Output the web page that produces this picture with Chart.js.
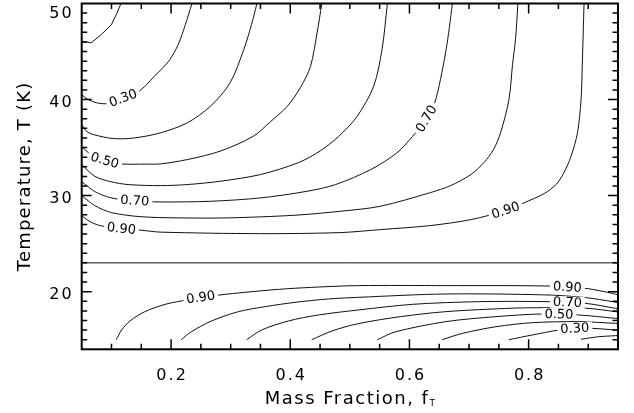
<!DOCTYPE html>
<html>
<head>
<meta charset="utf-8">
<title>Mass fraction vs temperature contours</title>
<script src="https://cdn.jsdelivr.net/npm/chart.js@4.4.0/dist/chart.umd.min.js"></script>
<style>
  html, body { margin: 0; padding: 0; background: #fff; }
  canvas { display: block; }
</style>
</head>
<body>
<canvas id="contours" width="634" height="413"></canvas>
<script>
// contour levels, shared by both regions
const levels = [0.20, 0.30, 0.40, 0.50, 0.60, 0.70, 0.80, 0.90];

// upper region (T above the boundary), each contour as [f_T, T] pairs
const up20 = [[0.050, 46.07], [0.066, 45.91], [0.083, 46.77], [0.100, 47.81], [0.108, 48.85], [0.116, 50.0]];
const up30 = [[0.050, 40.52], [0.059, 40.07], [0.075, 39.66], [0.093, 39.58], [0.114, 40.0], [0.142, 40.68],
  [0.159, 41.56], [0.173, 42.50], [0.185, 43.23], [0.198, 44.17], [0.212, 45.73], [0.224, 47.81], [0.235, 50.0]];
const up40 = [[0.050, 37.40], [0.058, 36.70], [0.070, 36.35], [0.103, 35.94], [0.137, 35.99], [0.182, 36.53],
  [0.227, 37.57], [0.266, 39.30], [0.299, 41.74], [0.322, 45.21], [0.335, 47.81], [0.344, 50.0]];
const up50 = [[0.050, 35.10], [0.061, 34.48], [0.081, 33.75], [0.117, 33.30], [0.156, 33.28], [0.182, 33.30],
  [0.227, 33.75], [0.282, 34.62], [0.338, 36.18], [0.367, 37.71], [0.395, 39.30], [0.417, 41.25],
  [0.434, 43.47], [0.445, 46.95], [0.453, 50.0]];
const up60 = [[0.050, 33.23], [0.072, 32.01], [0.098, 31.46], [0.128, 31.15], [0.182, 31.04], [0.227, 31.15],
  [0.282, 31.49], [0.350, 32.19], [0.414, 33.44], [0.451, 34.69], [0.481, 36.15], [0.512, 38.23],
  [0.540, 41.39], [0.554, 45.21], [0.563, 50.0]];
const up70 = [[0.050, 31.46], [0.072, 30.42], [0.098, 29.79], [0.131, 29.48], [0.182, 29.34], [0.266, 29.41],
  [0.350, 29.76], [0.428, 30.45], [0.476, 31.15], [0.535, 32.71], [0.579, 34.45], [0.605, 36.15],
  [0.629, 38.02], [0.642, 39.58], [0.652, 42.08], [0.661, 45.00], [0.667, 47.50], [0.672, 50.0]];
const up80 = [[0.050, 30.00], [0.072, 28.96], [0.100, 28.23], [0.148, 27.81], [0.212, 27.68], [0.294, 27.68],
  [0.406, 27.95], [0.484, 28.37], [0.551, 28.89], [0.635, 30.31], [0.669, 31.04], [0.703, 32.19],
  [0.725, 33.44], [0.741, 34.79], [0.753, 36.56], [0.767, 40.00], [0.773, 43.65], [0.778, 46.25], [0.782, 50.0]];
const up90 = [[0.050, 27.92], [0.064, 27.29], [0.081, 26.88], [0.114, 26.56], [0.148, 26.41], [0.182, 26.20],
  [0.350, 26.04], [0.484, 26.15], [0.551, 26.46], [0.635, 26.88], [0.703, 27.50], [0.761, 28.44],
  [0.792, 29.24], [0.826, 30.21], [0.846, 31.15], [0.859, 32.36], [0.871, 34.06], [0.882, 36.53],
  [0.888, 40.00], [0.890, 43.47], [0.893, 50.0]];

// lower region (T below the boundary)
const low20 = [[0.888, 15.05], [0.918, 15.31], [0.946, 15.42], [0.950, 15.43]];
const low30 = [[0.767, 15.0], [0.806, 15.49], [0.851, 16.01], [0.879, 16.17], [0.907, 16.18], [0.946, 16.01], [0.950, 16.00]];
const low40 = [[0.655, 15.0], [0.689, 15.66], [0.745, 16.35], [0.806, 16.77], [0.885, 16.88], [0.946, 16.70], [0.950, 16.68]];
const low50 = [[0.546, 15.0], [0.577, 15.83], [0.661, 16.88], [0.745, 17.40], [0.823, 17.68], [0.885, 17.57], [0.946, 17.22], [0.950, 17.20]];
const low60 = [[0.436, 15.0], [0.470, 15.91], [0.514, 16.67], [0.585, 17.40], [0.661, 17.92], [0.773, 18.28],
  [0.829, 18.33], [0.896, 18.28], [0.946, 17.92], [0.950, 17.88]];
const low70 = [[0.327, 15.0], [0.352, 16.01], [0.397, 16.95], [0.447, 17.57], [0.514, 18.09], [0.605, 18.68],
  [0.717, 18.96], [0.829, 18.96], [0.896, 18.78], [0.946, 18.26], [0.950, 18.20]];
const low80 = [[0.217, 15.0], [0.234, 15.83], [0.268, 16.95], [0.313, 17.92], [0.358, 18.44], [0.408, 18.89],
  [0.464, 19.24], [0.514, 19.41], [0.661, 19.76], [0.829, 19.66], [0.896, 19.38], [0.941, 18.96], [0.950, 18.85]];
const low90 = [[0.108, 15.0], [0.117, 16.01], [0.131, 16.95], [0.156, 17.92], [0.190, 18.68], [0.217, 19.03],
  [0.249, 19.38], [0.282, 19.66], [0.324, 19.93], [0.380, 20.24], [0.436, 20.45], [0.514, 20.63],
  [0.661, 20.63], [0.829, 20.59], [0.896, 20.34], [0.941, 19.82], [0.950, 19.66]];

// horizontal boundary between the two regions
const boundary = [[0.05, 23.0], [0.95, 23.0]];

const upperCurves = [up20, up30, up40, up50, up60, up70, up80, up90];
const lowerCurves = [low20, low30, low40, low50, low60, low70, low80, low90];

// inline contour labels: which curve, and the f_T where the label sits
const labelCurves = [up30, up50, up70, up90, up70, up90, low90, low90, low70, low50, low30];
const labelLevels = [0.30, 0.50, 0.70, 0.90, 0.70, 0.90, 0.90, 0.90, 0.70, 0.50, 0.30];
const labelAt = [0.1195, 0.0887, 0.1391, 0.1166, 0.6287, 0.7614, 0.2497, 0.8651, 0.8651, 0.851, 0.8774];

// axes
const xMin = 0.05, xMax = 0.95, yMin = 14, yMax = 50;
const xMajor = [0.2, 0.4, 0.6, 0.8];
const xTickLabels = ['0.2', '0.4', '0.6', '0.8'];
const yMajor = [20, 30, 40, 50];
const yTickLabels = ['20', '30', '40', '50'];
const xTitle = 'Mass Fraction, f';
const xTitleSub = 'T';
const yTitle = 'Temperature, T (K)';

const FONT = "'DejaVu Sans', 'Liberation Sans', sans-serif";

function toPoints(curve) {
  return curve.map(([f, t]) => ({ x: f, y: t }));
}

function interp(curve, f) {
  for (let k = 0; k < curve.length - 1; k++) {
    const [f0, t0] = curve[k], [f1, t1] = curve[k + 1];
    if (f >= f0 && f <= f1) return t0 + (t1 - t0) * (f - f0) / (f1 - f0);
  }
  return f < curve[0][0] ? curve[0][1] : curve[curve.length - 1][1];
}

const lineStyle = {
  borderColor: '#111',
  borderWidth: 1,
  pointRadius: 0,
  fill: false,
  tension: 0.3
};

const datasets = upperCurves.concat(lowerCurves).map(c =>
  Object.assign({ data: toPoints(c) }, lineStyle, c === up20 ? { tension: 0 } : {}));
datasets.push(Object.assign({ data: toPoints(boundary) }, lineStyle, { tension: 0 }));

// labels, frame, inward ticks and axis text
const decor = {
  id: 'decor',
  afterDraw(chart) {
    const ctx = chart.ctx;
    const xs = chart.scales.x, ys = chart.scales.y;
    const a = chart.chartArea;

    // contour labels on a white patch, turned along the line
    labelCurves.forEach((curve, i) => {
      const f = labelAt[i];
      const px = xs.getPixelForValue(f), py = ys.getPixelForValue(interp(curve, f));
      const d = 0.015;
      const ax = xs.getPixelForValue(f - d), ay = ys.getPixelForValue(interp(curve, f - d));
      const bx = xs.getPixelForValue(f + d), by = ys.getPixelForValue(interp(curve, f + d));
      let ang = Math.atan2(by - ay, bx - ax);
      if (ang > Math.PI / 2) ang -= Math.PI;
      if (ang < -Math.PI / 2) ang += Math.PI;
      const txt = labelLevels[i].toFixed(2);
      ctx.save();
      ctx.translate(px, py);
      ctx.rotate(ang);
      ctx.font = '13px ' + FONT;
      const w = ctx.measureText(txt).width;
      ctx.fillStyle = '#fff';
      ctx.fillRect(-w / 2 - 3, -6, w + 6, 12);
      ctx.fillStyle = '#000';
      ctx.textAlign = 'center';
      ctx.textBaseline = 'middle';
      ctx.fillText(txt, 0, 0.5);
      ctx.restore();
    });

    ctx.save();
    ctx.strokeStyle = '#000';

    // frame
    ctx.lineWidth = 2;
    ctx.strokeRect(a.left, a.top, a.right - a.left, a.bottom - a.top);

    // ticks pointing into the plot, all four sides
    ctx.lineWidth = 1.5;
    ctx.beginPath();
    for (let k = 2; k <= 18; k++) {
      const v = k * 0.05;
      const len = xMajor.some(m => Math.abs(m - v) < 1e-6) ? 10 : 5.5;
      const p = xs.getPixelForValue(v);
      ctx.moveTo(p, a.bottom); ctx.lineTo(p, a.bottom - len);
      ctx.moveTo(p, a.top); ctx.lineTo(p, a.top + len);
    }
    for (let v = yMin + 1; v < yMax; v++) {
      const len = yMajor.includes(v) ? 10 : 5.5;
      const p = ys.getPixelForValue(v);
      ctx.moveTo(a.left, p); ctx.lineTo(a.left + len, p);
      ctx.moveTo(a.right, p); ctx.lineTo(a.right - len, p);
    }
    ctx.stroke();

    // tick labels
    ctx.fillStyle = '#000';
    ctx.font = '16px ' + FONT;
    ctx.letterSpacing = '2px';
    ctx.textBaseline = 'alphabetic';
    ctx.textAlign = 'center';
    xMajor.forEach((v, i) => {
      ctx.fillText(xTickLabels[i], xs.getPixelForValue(v) + 1, a.bottom + 30.7);
    });
    ctx.textAlign = 'right';
    yMajor.forEach((v, i) => {
      const base = Math.max(ys.getPixelForValue(v) + 7, 18);
      ctx.fillText(yTickLabels[i], a.left - 8, base);
    });

    // x title with subscript
    ctx.font = '18px ' + FONT;
    ctx.letterSpacing = '1.5px';
    const mainW = ctx.measureText(xTitle).width;
    ctx.font = '9px ' + FONT;
    ctx.letterSpacing = '0px';
    const subW = ctx.measureText(xTitleSub).width;
    const x0 = (a.left + a.right) / 2 - (mainW + subW) / 2;
    ctx.textAlign = 'left';
    ctx.font = '18px ' + FONT;
    ctx.letterSpacing = '1.5px';
    ctx.fillText(xTitle, x0, 403.5);
    ctx.font = '9px ' + FONT;
    ctx.letterSpacing = '0px';
    ctx.fillText(xTitleSub, x0 + mainW, 406);

    // y title
    ctx.translate(25, (a.top + a.bottom) / 2);
    ctx.rotate(-Math.PI / 2);
    ctx.font = '18px ' + FONT;
    ctx.letterSpacing = '1.2px';
    ctx.textAlign = 'center';
    ctx.textBaseline = 'middle';
    ctx.fillText(yTitle, 0, 0);
    ctx.restore();
  }
};

new Chart(document.getElementById('contours'), {
  type: 'line',
  data: { datasets },
  options: {
    responsive: false,
    animation: false,
    devicePixelRatio: 1,
    layout: { padding: { top: 3.5, right: 16, bottom: 0, left: 0 } },
    plugins: { legend: { display: false }, tooltip: { enabled: false } },
    scales: {
      x: {
        type: 'linear', min: xMin, max: xMax,
        grid: { display: false, drawTicks: false },
        border: { display: false },
        ticks: { display: false },
        afterFit(s) { s.height = 63.7; }
      },
      y: {
        type: 'linear', min: yMin, max: yMax,
        grid: { display: false, drawTicks: false },
        border: { display: false },
        ticks: { display: false },
        afterFit(s) { s.width = 81.7; }
      }
    }
  },
  plugins: [decor]
});
</script>
</body>
</html>
